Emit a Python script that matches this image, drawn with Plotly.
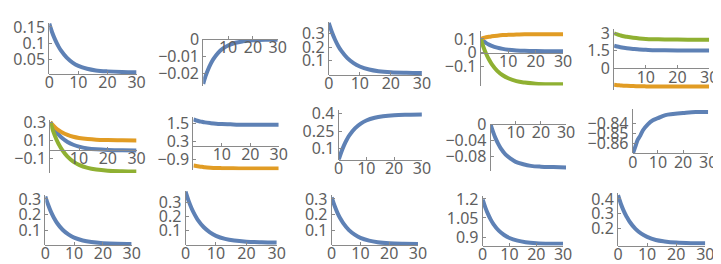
import plotly.graph_objects as go

W, H = 721, 264

# ---------------- data ----------------
t = [0, 1, 2, 3, 4, 6, 8, 10, 13, 16, 20, 25, 30]

p1_blue = [0.160, 0.133, 0.111, 0.093, 0.078, 0.056, 0.041, 0.031, 0.022, 0.017, 0.014, 0.012, 0.011]
p2_blue = [-0.026, -0.0213, -0.0175, -0.0144, -0.0118, -0.0080, -0.0055, -0.0038, -0.0022, -0.0014, -0.0008, -0.0005, -0.0004]
p3_blue = [0.375, 0.309, 0.255, 0.210, 0.174, 0.120, 0.084, 0.059, 0.037, 0.025, 0.017, 0.013, 0.011]
p4_blue = [0.100, 0.084, 0.070, 0.059, 0.050, 0.037, 0.028, 0.022, 0.017, 0.014, 0.012, 0.011, 0.010]
p4_orange = [0.100, 0.107, 0.112, 0.116, 0.119, 0.124, 0.128, 0.130, 0.132, 0.134, 0.134, 0.135, 0.135]
p4_green = [0.100, 0.040, -0.009, -0.049, -0.082, -0.131, -0.163, -0.185, -0.206, -0.216, -0.224, -0.228, -0.229]
p5_blue = [1.95, 1.87, 1.81, 1.76, 1.72, 1.66, 1.61, 1.59, 1.56, 1.55, 1.54, 1.53, 1.53]
p5_orange = [-1.40, -1.43, -1.45, -1.47, -1.48, -1.50, -1.52, -1.53, -1.54, -1.54, -1.55, -1.55, -1.55]
p5_green = [3.00, 2.90, 2.82, 2.75, 2.70, 2.62, 2.56, 2.52, 2.49, 2.47, 2.46, 2.45, 2.45]
p6_blue = [0.300, 0.244, 0.198, 0.160, 0.129, 0.083, 0.053, 0.032, 0.013, 0.003, -0.004, -0.008, -0.009]
p6_orange = [0.300, 0.264, 0.234, 0.210, 0.190, 0.160, 0.140, 0.127, 0.115, 0.108, 0.104, 0.101, 0.100]
p6_green = [0.300, 0.202, 0.122, 0.056, 0.002, -0.077, -0.131, -0.167, -0.200, -0.218, -0.230, -0.236, -0.239]
p7_blue = [1.78, 1.71, 1.66, 1.62, 1.58, 1.53, 1.49, 1.47, 1.45, 1.43, 1.43, 1.42, 1.42]
p7_orange = [-1.32, -1.36, -1.39, -1.41, -1.44, -1.47, -1.49, -1.50, -1.51, -1.52, -1.53, -1.53, -1.53]
p8_blue = [0.000, 0.071, 0.130, 0.178, 0.218, 0.276, 0.315, 0.342, 0.366, 0.379, 0.388, 0.392, 0.394]
p9_blue = [0.000, -0.019, -0.035, -0.048, -0.059, -0.075, -0.085, -0.093, -0.099, -0.103, -0.105, -0.106, -0.107]
p10_blue = [-0.870, -0.863, -0.856, -0.852, -0.847, -0.841, -0.837, -0.835, -0.832, -0.831, -0.830, -0.829, -0.829]
p11_blue = [0.316, 0.261, 0.215, 0.178, 0.147, 0.102, 0.072, 0.051, 0.033, 0.023, 0.016, 0.012, 0.011]
p12_blue = [0.374, 0.308, 0.254, 0.210, 0.173, 0.120, 0.084, 0.059, 0.037, 0.025, 0.017, 0.013, 0.011]
p13_blue = [0.310, 0.256, 0.211, 0.175, 0.145, 0.100, 0.071, 0.050, 0.032, 0.022, 0.015, 0.012, 0.011]
p14_blue = [1.195, 1.132, 1.080, 1.037, 1.002, 0.950, 0.916, 0.892, 0.871, 0.859, 0.851, 0.847, 0.846]
p15_blue = [0.426, 0.366, 0.317, 0.277, 0.244, 0.195, 0.162, 0.140, 0.119, 0.109, 0.101, 0.097, 0.096]

# y tick values / labels per panel
yticks = [
    ([0.15, 0.1, 0.05], ["0.15", "0.1", "0.05"]),
    ([0, -0.01, -0.02], ["0", "−0.01", "−0.02"]),
    ([0.3, 0.2, 0.1], ["0.3", "0.2", "0.1"]),
    ([0.1, 0, -0.1], ["0.1", "0", "−0.1"]),
    ([3, 1.5, 0], ["3", "1.5", "0"]),
    ([0.3, 0.1, -0.1], ["0.3", "0.1", "−0.1"]),
    ([1.5, 0.3, -0.9], ["1.5", "0.3", "−0.9"]),
    ([0.4, 0.25, 0.1], ["0.4", "0.25", "0.1"]),
    ([0, -0.04, -0.08], ["0", "−0.04", "−0.08"]),
    ([-0.84, -0.85, -0.86], ["−0.84", "−0.85", "−0.86"]),
    ([0.3, 0.2, 0.1], ["0.3", "0.2", "0.1"]),
    ([0.3, 0.2, 0.1], ["0.3", "0.2", "0.1"]),
    ([0.3, 0.2, 0.1], ["0.3", "0.2", "0.1"]),
    ([1.2, 1.05, 0.9], ["1.2", "1.05", "0.9"]),
    ([0.4, 0.3, 0.2], ["0.4", "0.3", "0.2"]),
]
xticks_full = [0, 10, 20, 30]
xticks_part = [10, 20, 30]

series = [
    [("b", p1_blue)],
    [("b", p2_blue)],
    [("b", p3_blue)],
    [("b", p4_blue), ("o", p4_orange), ("g", p4_green)],
    [("b", p5_blue), ("o", p5_orange), ("g", p5_green)],
    [("b", p6_blue), ("o", p6_orange), ("g", p6_green)],
    [("b", p7_blue), ("o", p7_orange)],
    [("b", p8_blue)],
    [("b", p9_blue)],
    [("b", p10_blue)],
    [("b", p11_blue)],
    [("b", p12_blue)],
    [("b", p13_blue)],
    [("b", p14_blue)],
    [("b", p15_blue)],
]

# ---------------- layout geometry (pixels) ----------------
# x0px, x30px, top_px, bottom_px, (va, pa), (vb, pb), x-axis value (None = bottom)
geom = [
    (37, 126, 4, 58, (0.15, 8.3), (0.05, 42.7), None),
    (194, 270, 21, 70, (0, 21), (-0.02, 57.3), 0),
    (322, 417, 3, 59, (0.3, 15), (0.1, 44), None),
    (477, 561, 13, 70, (0.1, 21), (-0.1, 50), 0),
    (613, 710, 10, 75, (3, 15), (0, 52), 0),
    (38, 126, 106, 162, (0.3, 108.5), (-0.1, 147), 0),
    (184, 271, 103, 159, (1.5, 110), (-0.9, 147.5), 0),
    (332, 417, 96, 148, (0.4, 99.7), (0.1, 136.3), None),
    (487, 564, 110.7, 160, (0, 110.7), (-0.08, 144.7), 0),
    (632, 709, 95, 141.3, (-0.84, 109.7), (-0.86, 131.3), None),
    (33, 121, 185, 237.7, (0.3, 189.3), (0.1, 222), None),
    (176, 269, 181, 237.7, (0.3, 192.5), (0.1, 222), None),
    (325, 413, 185, 237.7, (0.3, 189.3), (0.1, 222), None),
    (479, 561, 186, 238.3, (1.2, 189.3), (0.9, 229.3), None),
    (617, 706, 182.7, 238.3, (0.4, 189.3), (0.2, 220), None),
]

COLORS = {"b": "#5E81B5", "o": "#E19C24", "g": "#8FB032"}
TXT = "#5f5f5f"
AX = "#8a8a8a"
FONT = dict(family="Noto Sans, Liberation Sans, Arial", size=16, color=TXT)

fig = go.Figure()
layout = dict(width=W, height=H, margin=dict(l=0, r=0, t=0, b=0),
              paper_bgcolor="white", plot_bgcolor="white", showlegend=False)

for i, (g, ser, (ytv, ytt)) in enumerate(zip(geom, series, yticks)):
    k = i + 1
    x0, x1, top, bot, (va, pa), (vb, pb), xax = g
    slope = (vb - va) / (pb - pa)
    ymax = va + (top - pa) * slope
    ymin = va + (bot - pa) * slope
    if xax is None:
        axpx = bot
        xtv = xticks_full
    else:
        axpx = pa + (xax - va) / slope
        xtv = xticks_part
    xa = "x" if k == 1 else f"x{k}"
    ya = "y" if k == 1 else f"y{k}"
    for c, vals in ser:
        fig.add_trace(go.Scatter(x=t, y=vals, mode="lines", xaxis=xa, yaxis=ya,
                                 line=dict(color=COLORS[c], width=4, shape="spline", smoothing=1.0),
                                 hoverinfo="skip"))
    layout["xaxis" if k == 1 else f"xaxis{k}"] = dict(
        domain=[x0 / W, x1 / W], range=[0, 30], anchor="free", position=1 - axpx / H,
        showgrid=False, zeroline=False, showline=True, linecolor=AX, linewidth=1,
        ticks="inside", ticklen=3, tickcolor=AX, tickvals=xtv, ticktext=[str(v) for v in xtv],
        tickfont=FONT, ticklabelstandoff=-6, fixedrange=True)
    layout["yaxis" if k == 1 else f"yaxis{k}"] = dict(
        domain=[1 - bot / H, 1 - top / H], range=[ymin, ymax], anchor=xa,
        showgrid=False, zeroline=False, showline=True, linecolor=AX, linewidth=1,
        ticks="inside", ticklen=3, tickcolor=AX, tickvals=ytv, ticktext=ytt,
        tickfont=FONT, fixedrange=True)

fig.update_layout(**layout)
fig.write_html("out.html")
